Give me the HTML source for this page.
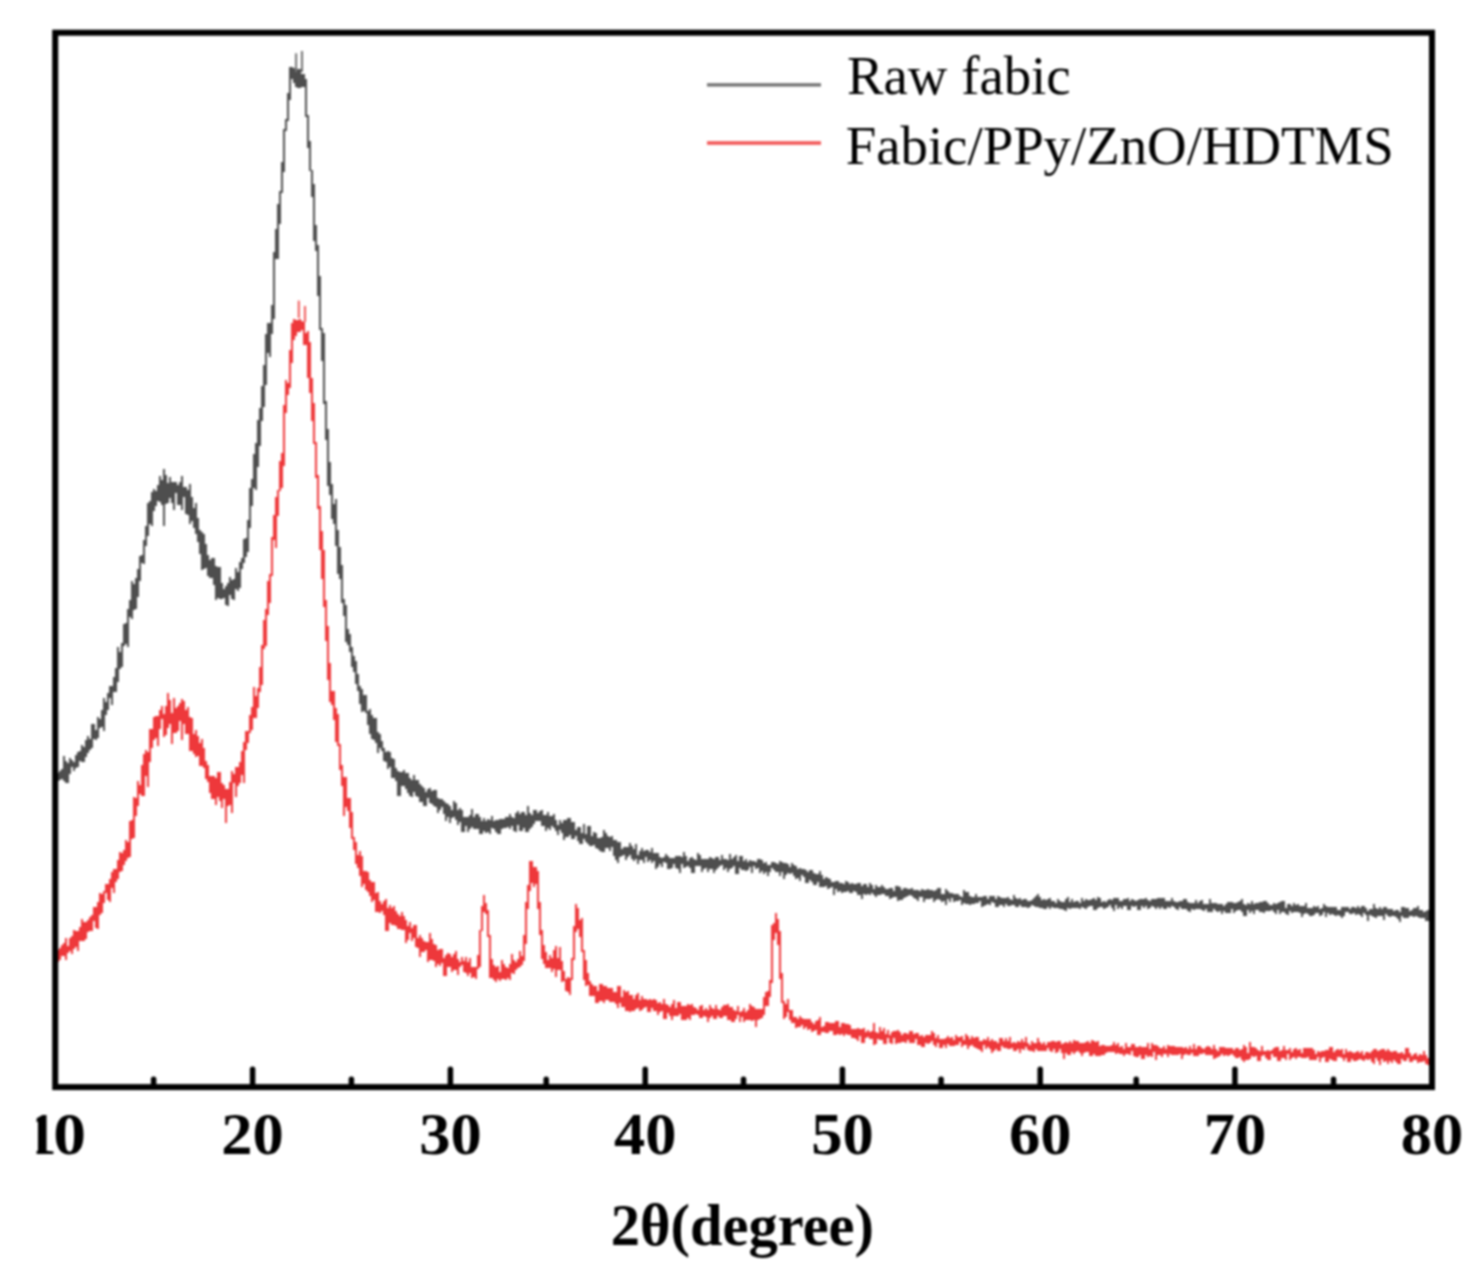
<!DOCTYPE html>
<html><head><meta charset="utf-8"><style>
html,body{margin:0;padding:0;background:#fff;}
svg{display:block;filter:blur(1px);}
text{font-family:"Liberation Serif",serif;}
</style></head><body>
<svg width="1480" height="1279" viewBox="0 0 1480 1279">
<rect x="0" y="0" width="1480" height="1279" fill="#fff"/>
<path d="M55.0 770.2h2.0v13.9h-2.0zM57.0 773.4h2.0v7.7h-2.0zM59.0 770.6h2.0v9.2h-2.0zM61.0 768.6h2.0v10.3h-2.0zM63.0 756.3h2.0v24.3h-2.0zM65.0 760.5h2.0v22.4h-2.0zM67.0 763.0h2.0v20.0h-2.0zM69.0 758.2h2.0v15.3h-2.0zM71.0 759.6h2.0v7.8h-2.0zM73.0 761.5h2.0v9.2h-2.0zM75.0 754.7h2.0v13.6h-2.0zM77.0 752.2h2.0v15.2h-2.0zM79.0 750.5h2.0v10.9h-2.0zM81.0 744.9h2.0v17.4h-2.0zM83.0 747.2h2.0v15.1h-2.0zM85.0 739.9h2.0v17.2h-2.0zM87.0 735.7h2.0v17.5h-2.0zM89.0 739.0h2.0v10.5h-2.0zM91.0 723.5h2.0v24.1h-2.0zM93.0 723.5h2.0v15.2h-2.0zM95.0 730.0h2.0v10.2h-2.0zM97.0 716.9h2.0v21.4h-2.0zM99.0 718.8h2.0v9.3h-2.0zM101.0 710.2h2.0v17.0h-2.0zM103.0 697.8h2.0v33.1h-2.0zM105.0 702.1h2.0v12.8h-2.0zM107.0 693.3h2.0v16.2h-2.0zM109.0 685.9h2.0v11.7h-2.0zM111.0 685.8h2.0v18.7h-2.0zM113.0 676.8h2.0v15.0h-2.0zM115.0 667.9h2.0v24.0h-2.0zM117.0 647.4h2.0v34.4h-2.0zM119.0 652.1h2.0v16.6h-2.0zM121.0 642.7h2.0v24.7h-2.0zM123.0 624.4h2.0v21.1h-2.0zM125.0 622.8h2.0v21.3h-2.0zM127.0 608.7h2.0v37.9h-2.0zM129.0 599.9h2.0v17.2h-2.0zM131.0 581.1h2.0v38.3h-2.0zM133.0 583.9h2.0v25.8h-2.0zM135.0 578.2h2.0v30.6h-2.0zM137.0 568.9h2.0v28.4h-2.0zM139.0 555.8h2.0v24.8h-2.0zM141.0 555.4h2.0v7.9h-2.0zM143.0 539.7h2.0v24.5h-2.0zM145.0 525.8h2.0v20.3h-2.0zM147.0 502.7h2.0v33.6h-2.0zM149.0 501.3h2.0v22.9h-2.0zM151.0 491.7h2.0v34.4h-2.0zM153.0 488.7h2.0v22.4h-2.0zM155.0 490.8h2.0v15.4h-2.0zM157.0 485.4h2.0v15.3h-2.0zM159.0 476.3h2.0v25.9h-2.0zM161.0 480.1h2.0v24.5h-2.0zM163.0 468.6h2.0v57.8h-2.0zM165.0 474.7h2.0v28.9h-2.0zM167.0 482.5h2.0v20.4h-2.0zM169.0 477.0h2.0v20.9h-2.0zM171.0 481.9h2.0v20.8h-2.0zM173.0 482.1h2.0v27.7h-2.0zM175.0 482.1h2.0v10.4h-2.0zM177.0 485.3h2.0v20.1h-2.0zM179.0 481.6h2.0v23.4h-2.0zM181.0 476.2h2.0v33.4h-2.0zM183.0 486.5h2.0v10.2h-2.0zM185.0 487.1h2.0v27.3h-2.0zM187.0 490.1h2.0v24.4h-2.0zM189.0 484.4h2.0v39.5h-2.0zM191.0 497.4h2.0v23.8h-2.0zM193.0 507.6h2.0v20.3h-2.0zM195.0 503.0h2.0v31.0h-2.0zM197.0 518.3h2.0v23.3h-2.0zM199.0 529.5h2.0v24.5h-2.0zM201.0 532.4h2.0v37.1h-2.0zM203.0 533.8h2.0v35.6h-2.0zM205.0 543.9h2.0v24.0h-2.0zM207.0 554.7h2.0v21.2h-2.0zM209.0 560.4h2.0v17.2h-2.0zM211.0 557.8h2.0v20.0h-2.0zM213.0 557.8h2.0v27.6h-2.0zM215.0 565.9h2.0v34.4h-2.0zM217.0 566.9h2.0v31.2h-2.0zM219.0 566.9h2.0v32.4h-2.0zM221.0 582.7h2.0v16.5h-2.0zM223.0 588.6h2.0v9.6h-2.0zM225.0 585.7h2.0v18.9h-2.0zM227.0 582.5h2.0v23.7h-2.0zM229.0 577.2h2.0v17.8h-2.0zM231.0 580.4h2.0v18.7h-2.0zM233.0 578.8h2.0v21.6h-2.0zM235.0 568.4h2.0v20.5h-2.0zM237.0 572.1h2.0v18.7h-2.0zM239.0 562.1h2.0v25.5h-2.0zM241.0 558.1h2.0v10.6h-2.0zM243.0 538.6h2.0v24.3h-2.0zM245.0 537.5h2.0v19.8h-2.0zM247.0 520.0h2.0v32.0h-2.0zM249.0 488.2h2.0v39.6h-2.0zM251.0 478.9h2.0v27.1h-2.0zM253.0 453.5h2.0v34.0h-2.0zM255.0 443.0h2.0v46.5h-2.0zM257.0 419.7h2.0v46.8h-2.0zM259.0 407.7h2.0v38.7h-2.0zM261.0 385.8h2.0v35.3h-2.0zM263.0 365.0h2.0v41.9h-2.0zM265.0 334.2h2.0v50.4h-2.0zM267.0 322.5h2.0v30.7h-2.0zM269.0 322.5h2.0v34.4h-2.0zM271.0 304.6h2.0v29.4h-2.0zM273.0 252.3h2.0v66.8h-2.0zM275.0 228.6h2.0v30.2h-2.0zM277.0 204.4h2.0v54.4h-2.0zM279.0 190.6h2.0v33.6h-2.0zM281.0 161.7h2.0v30.9h-2.0zM283.0 128.8h2.0v43.3h-2.0zM285.0 118.6h2.0v12.1h-2.0zM287.0 93.0h2.0v27.7h-2.0zM289.0 66.5h2.0v33.3h-2.0zM291.0 66.5h2.0v12.9h-2.0zM293.0 67.5h2.0v15.9h-2.0zM295.0 70.9h2.0v15.7h-2.0zM297.0 69.1h2.0v19.0h-2.0zM299.0 68.5h2.0v19.6h-2.0zM301.0 74.1h2.0v12.5h-2.0zM303.0 74.3h2.0v12.3h-2.0zM305.0 79.2h2.0v37.8h-2.0zM307.0 115.0h2.0v33.2h-2.0zM309.0 141.4h2.0v30.0h-2.0zM311.0 169.5h2.0v27.4h-2.0zM313.0 184.1h2.0v56.9h-2.0zM315.0 224.7h2.0v25.9h-2.0zM317.0 245.4h2.0v50.5h-2.0zM319.0 275.8h2.0v54.0h-2.0zM321.0 327.7h2.0v32.9h-2.0zM323.0 333.2h2.0v71.1h-2.0zM325.0 401.1h2.0v39.0h-2.0zM327.0 428.8h2.0v56.8h-2.0zM329.0 462.1h2.0v33.0h-2.0zM331.0 484.4h2.0v34.9h-2.0zM333.0 504.4h2.0v19.1h-2.0zM335.0 499.2h2.0v47.2h-2.0zM337.0 529.6h2.0v44.6h-2.0zM339.0 546.7h2.0v32.0h-2.0zM341.0 565.0h2.0v38.0h-2.0zM343.0 598.5h2.0v17.8h-2.0zM345.0 605.1h2.0v36.4h-2.0zM347.0 628.8h2.0v16.4h-2.0zM349.0 634.3h2.0v17.8h-2.0zM351.0 646.8h2.0v19.8h-2.0zM353.0 656.0h2.0v16.2h-2.0zM355.0 660.9h2.0v23.3h-2.0zM357.0 673.5h2.0v17.6h-2.0zM359.0 685.9h2.0v17.8h-2.0zM361.0 688.7h2.0v23.2h-2.0zM363.0 695.1h2.0v16.0h-2.0zM365.0 694.8h2.0v18.0h-2.0zM367.0 710.7h2.0v14.5h-2.0zM369.0 708.9h2.0v24.7h-2.0zM371.0 714.8h2.0v24.6h-2.0zM373.0 718.0h2.0v22.0h-2.0zM375.0 717.9h2.0v25.3h-2.0zM377.0 732.2h2.0v20.6h-2.0zM379.0 733.6h2.0v14.0h-2.0zM381.0 740.8h2.0v10.2h-2.0zM383.0 747.8h2.0v13.3h-2.0zM385.0 752.4h2.0v9.7h-2.0zM387.0 751.0h2.0v18.0h-2.0zM389.0 752.2h2.0v14.4h-2.0zM391.0 758.0h2.0v19.7h-2.0zM393.0 758.7h2.0v19.0h-2.0zM395.0 768.2h2.0v12.3h-2.0zM397.0 771.3h2.0v24.6h-2.0zM399.0 772.1h2.0v23.8h-2.0zM401.0 771.7h2.0v14.6h-2.0zM403.0 770.0h2.0v15.9h-2.0zM405.0 772.6h2.0v16.1h-2.0zM407.0 772.6h2.0v19.9h-2.0zM409.0 778.2h2.0v18.0h-2.0zM411.0 780.2h2.0v17.2h-2.0zM413.0 774.5h2.0v17.3h-2.0zM415.0 779.7h2.0v16.4h-2.0zM417.0 779.7h2.0v17.3h-2.0zM419.0 783.9h2.0v18.4h-2.0zM421.0 786.2h2.0v15.7h-2.0zM423.0 788.1h2.0v17.9h-2.0zM425.0 792.0h2.0v14.0h-2.0zM427.0 789.1h2.0v9.1h-2.0zM429.0 788.2h2.0v15.0h-2.0zM431.0 790.6h2.0v13.4h-2.0zM433.0 789.6h2.0v15.9h-2.0zM435.0 789.6h2.0v17.6h-2.0zM437.0 797.6h2.0v15.5h-2.0zM439.0 799.0h2.0v11.4h-2.0zM441.0 799.0h2.0v8.1h-2.0zM443.0 800.8h2.0v13.3h-2.0zM445.0 802.8h2.0v18.2h-2.0zM447.0 804.3h2.0v12.6h-2.0zM449.0 806.0h2.0v17.2h-2.0zM451.0 810.0h2.0v7.6h-2.0zM453.0 801.4h2.0v15.2h-2.0zM455.0 802.7h2.0v17.2h-2.0zM457.0 809.6h2.0v15.2h-2.0zM459.0 808.0h2.0v13.5h-2.0zM461.0 809.6h2.0v22.1h-2.0zM463.0 816.7h2.0v15.1h-2.0zM465.0 816.7h2.0v9.7h-2.0zM467.0 817.0h2.0v14.5h-2.0zM469.0 815.2h2.0v14.2h-2.0zM471.0 809.1h2.0v17.4h-2.0zM473.0 817.1h2.0v11.7h-2.0zM475.0 814.1h2.0v14.8h-2.0zM477.0 814.1h2.0v15.3h-2.0zM479.0 816.7h2.0v17.3h-2.0zM481.0 821.2h2.0v12.8h-2.0zM483.0 817.9h2.0v13.2h-2.0zM485.0 820.7h2.0v12.5h-2.0zM487.0 819.4h2.0v12.9h-2.0zM489.0 820.1h2.0v14.0h-2.0zM491.0 816.4h2.0v11.5h-2.0zM493.0 821.2h2.0v7.8h-2.0zM495.0 819.5h2.0v12.7h-2.0zM497.0 819.5h2.0v14.8h-2.0zM499.0 819.3h2.0v14.9h-2.0zM501.0 819.3h2.0v9.5h-2.0zM503.0 819.0h2.0v9.0h-2.0zM505.0 817.0h2.0v11.0h-2.0zM507.0 817.0h2.0v10.1h-2.0zM509.0 813.7h2.0v15.4h-2.0zM511.0 816.6h2.0v9.2h-2.0zM513.0 817.5h2.0v13.0h-2.0zM515.0 812.5h2.0v19.6h-2.0zM517.0 811.3h2.0v13.5h-2.0zM519.0 813.9h2.0v17.1h-2.0zM521.0 812.0h2.0v18.9h-2.0zM523.0 812.0h2.0v16.1h-2.0zM525.0 815.2h2.0v16.7h-2.0zM527.0 805.6h2.0v26.4h-2.0zM529.0 813.3h2.0v15.9h-2.0zM531.0 815.3h2.0v11.2h-2.0zM533.0 810.0h2.0v14.0h-2.0zM535.0 810.4h2.0v10.6h-2.0zM537.0 813.1h2.0v7.8h-2.0zM539.0 810.5h2.0v10.3h-2.0zM541.0 810.4h2.0v15.8h-2.0zM543.0 814.8h2.0v10.7h-2.0zM545.0 814.8h2.0v16.2h-2.0zM547.0 812.0h2.0v16.0h-2.0zM549.0 815.5h2.0v14.2h-2.0zM551.0 815.7h2.0v10.3h-2.0zM553.0 814.2h2.0v13.4h-2.0zM555.0 820.0h2.0v10.9h-2.0zM557.0 825.0h2.0v10.0h-2.0zM559.0 820.1h2.0v9.7h-2.0zM561.0 823.2h2.0v9.6h-2.0zM563.0 820.0h2.0v19.6h-2.0zM565.0 820.0h2.0v17.3h-2.0zM567.0 818.3h2.0v18.9h-2.0zM569.0 818.3h2.0v16.2h-2.0zM571.0 821.8h2.0v17.2h-2.0zM573.0 821.8h2.0v17.0h-2.0zM575.0 829.7h2.0v6.2h-2.0zM577.0 827.1h2.0v13.9h-2.0zM579.0 827.3h2.0v16.8h-2.0zM581.0 832.5h2.0v11.5h-2.0zM583.0 823.9h2.0v15.0h-2.0zM585.0 833.7h2.0v8.0h-2.0zM587.0 826.4h2.0v17.5h-2.0zM589.0 826.4h2.0v20.0h-2.0zM591.0 835.6h2.0v10.8h-2.0zM593.0 832.1h2.0v12.4h-2.0zM595.0 832.6h2.0v15.8h-2.0zM597.0 837.7h2.0v10.8h-2.0zM599.0 837.9h2.0v13.4h-2.0zM601.0 836.9h2.0v15.0h-2.0zM603.0 829.8h2.0v22.1h-2.0zM605.0 833.3h2.0v14.5h-2.0zM607.0 836.1h2.0v11.7h-2.0zM609.0 836.6h2.0v14.0h-2.0zM611.0 836.2h2.0v10.5h-2.0zM613.0 839.5h2.0v16.1h-2.0zM615.0 840.4h2.0v19.4h-2.0zM617.0 842.1h2.0v21.3h-2.0zM619.0 842.1h2.0v14.4h-2.0zM621.0 848.9h2.0v6.8h-2.0zM623.0 846.7h2.0v8.5h-2.0zM625.0 847.1h2.0v12.6h-2.0zM627.0 847.1h2.0v9.6h-2.0zM629.0 843.2h2.0v11.4h-2.0zM631.0 846.3h2.0v12.6h-2.0zM633.0 849.3h2.0v12.1h-2.0zM635.0 844.1h2.0v14.8h-2.0zM637.0 854.8h2.0v9.6h-2.0zM639.0 851.0h2.0v9.4h-2.0zM641.0 847.6h2.0v12.4h-2.0zM643.0 851.0h2.0v12.0h-2.0zM645.0 849.6h2.0v7.8h-2.0zM647.0 849.6h2.0v12.3h-2.0zM649.0 851.7h2.0v8.7h-2.0zM651.0 848.4h2.0v14.6h-2.0zM653.0 852.9h2.0v7.6h-2.0zM655.0 852.9h2.0v16.5h-2.0zM657.0 852.9h2.0v14.2h-2.0zM659.0 856.6h2.0v7.6h-2.0zM661.0 858.1h2.0v8.8h-2.0zM663.0 857.1h2.0v4.9h-2.0zM665.0 854.4h2.0v9.0h-2.0zM667.0 856.1h2.0v12.4h-2.0zM669.0 858.3h2.0v10.7h-2.0zM671.0 858.2h2.0v9.9h-2.0zM673.0 857.6h2.0v6.5h-2.0zM675.0 856.4h2.0v11.8h-2.0zM677.0 856.4h2.0v12.1h-2.0zM679.0 856.3h2.0v16.9h-2.0zM681.0 856.9h2.0v7.2h-2.0zM683.0 852.0h2.0v16.2h-2.0zM685.0 856.2h2.0v10.9h-2.0zM687.0 860.6h2.0v5.6h-2.0zM689.0 857.7h2.0v10.2h-2.0zM691.0 856.8h2.0v16.0h-2.0zM693.0 859.2h2.0v13.6h-2.0zM695.0 859.8h2.0v6.4h-2.0zM697.0 853.4h2.0v12.5h-2.0zM699.0 854.6h2.0v11.6h-2.0zM701.0 859.1h2.0v13.1h-2.0zM703.0 858.8h2.0v10.5h-2.0zM705.0 858.6h2.0v9.8h-2.0zM707.0 858.6h2.0v13.6h-2.0zM709.0 856.8h2.0v12.0h-2.0zM711.0 858.0h2.0v11.1h-2.0zM713.0 858.9h2.0v14.5h-2.0zM715.0 856.7h2.0v13.7h-2.0zM717.0 856.7h2.0v11.6h-2.0zM719.0 859.6h2.0v6.3h-2.0zM721.0 855.2h2.0v10.2h-2.0zM723.0 859.1h2.0v11.0h-2.0zM725.0 858.5h2.0v9.7h-2.0zM727.0 860.1h2.0v11.4h-2.0zM729.0 853.8h2.0v15.0h-2.0zM731.0 858.8h2.0v8.7h-2.0zM733.0 856.7h2.0v9.5h-2.0zM735.0 855.3h2.0v18.3h-2.0zM737.0 861.0h2.0v12.6h-2.0zM739.0 856.3h2.0v11.4h-2.0zM741.0 856.3h2.0v13.7h-2.0zM743.0 860.8h2.0v9.2h-2.0zM745.0 858.7h2.0v12.3h-2.0zM747.0 861.5h2.0v8.8h-2.0zM749.0 859.7h2.0v7.6h-2.0zM751.0 861.0h2.0v11.6h-2.0zM753.0 861.1h2.0v5.1h-2.0zM755.0 862.0h2.0v7.1h-2.0zM757.0 858.7h2.0v9.5h-2.0zM759.0 858.7h2.0v14.1h-2.0zM761.0 860.1h2.0v10.8h-2.0zM763.0 863.4h2.0v10.9h-2.0zM765.0 862.1h2.0v10.2h-2.0zM767.0 864.7h2.0v11.4h-2.0zM769.0 864.5h2.0v7.5h-2.0zM771.0 861.6h2.0v6.7h-2.0zM773.0 862.0h2.0v7.6h-2.0zM775.0 863.1h2.0v9.3h-2.0zM777.0 863.8h2.0v8.3h-2.0zM779.0 860.8h2.0v15.1h-2.0zM781.0 861.9h2.0v10.3h-2.0zM783.0 862.9h2.0v15.8h-2.0zM785.0 862.9h2.0v12.3h-2.0zM787.0 864.3h2.0v8.7h-2.0zM789.0 866.9h2.0v6.6h-2.0zM791.0 863.4h2.0v9.1h-2.0zM793.0 865.4h2.0v10.2h-2.0zM795.0 866.2h2.0v13.0h-2.0zM797.0 868.6h2.0v9.0h-2.0zM799.0 868.3h2.0v13.0h-2.0zM801.0 869.3h2.0v6.1h-2.0zM803.0 868.7h2.0v8.7h-2.0zM805.0 869.5h2.0v13.1h-2.0zM807.0 871.8h2.0v10.7h-2.0zM809.0 870.4h2.0v9.2h-2.0zM811.0 870.4h2.0v11.8h-2.0zM813.0 873.0h2.0v11.6h-2.0zM815.0 873.6h2.0v11.3h-2.0zM817.0 874.2h2.0v7.3h-2.0zM819.0 870.6h2.0v15.9h-2.0zM821.0 875.3h2.0v11.3h-2.0zM823.0 879.2h2.0v7.8h-2.0zM825.0 877.1h2.0v8.4h-2.0zM827.0 877.9h2.0v10.7h-2.0zM829.0 878.5h2.0v9.9h-2.0zM831.0 881.5h2.0v5.4h-2.0zM833.0 881.6h2.0v13.0h-2.0zM835.0 881.1h2.0v7.5h-2.0zM837.0 881.3h2.0v11.1h-2.0zM839.0 882.8h2.0v8.5h-2.0zM841.0 882.6h2.0v10.6h-2.0zM843.0 883.6h2.0v7.9h-2.0zM845.0 881.4h2.0v10.1h-2.0zM847.0 882.3h2.0v8.7h-2.0zM849.0 884.4h2.0v8.9h-2.0zM851.0 883.3h2.0v10.1h-2.0zM853.0 884.0h2.0v6.8h-2.0zM855.0 884.4h2.0v7.2h-2.0zM857.0 882.6h2.0v12.2h-2.0zM859.0 882.9h2.0v12.1h-2.0zM861.0 886.2h2.0v12.6h-2.0zM863.0 884.0h2.0v10.2h-2.0zM865.0 884.0h2.0v10.5h-2.0zM867.0 886.7h2.0v7.2h-2.0zM869.0 883.4h2.0v11.4h-2.0zM871.0 885.0h2.0v7.8h-2.0zM873.0 889.4h2.0v6.0h-2.0zM875.0 885.2h2.0v11.8h-2.0zM877.0 887.3h2.0v7.5h-2.0zM879.0 886.8h2.0v8.0h-2.0zM881.0 884.7h2.0v9.6h-2.0zM883.0 886.6h2.0v6.9h-2.0zM885.0 888.8h2.0v7.2h-2.0zM887.0 888.9h2.0v7.1h-2.0zM889.0 888.3h2.0v10.8h-2.0zM891.0 887.8h2.0v10.4h-2.0zM893.0 891.4h2.0v5.9h-2.0zM895.0 886.4h2.0v10.7h-2.0zM897.0 886.4h2.0v15.0h-2.0zM899.0 887.3h2.0v12.7h-2.0zM901.0 889.5h2.0v10.3h-2.0zM903.0 888.2h2.0v9.6h-2.0zM905.0 887.8h2.0v8.9h-2.0zM907.0 888.8h2.0v6.9h-2.0zM909.0 889.1h2.0v5.5h-2.0zM911.0 888.2h2.0v8.0h-2.0zM913.0 890.0h2.0v8.1h-2.0zM915.0 890.4h2.0v8.6h-2.0zM917.0 890.4h2.0v10.8h-2.0zM919.0 891.1h2.0v5.7h-2.0zM921.0 888.6h2.0v8.0h-2.0zM923.0 890.0h2.0v11.9h-2.0zM925.0 890.0h2.0v9.1h-2.0zM927.0 889.0h2.0v10.2h-2.0zM929.0 890.2h2.0v8.8h-2.0zM931.0 890.2h2.0v7.8h-2.0zM933.0 890.8h2.0v10.8h-2.0zM935.0 889.7h2.0v10.7h-2.0zM937.0 887.7h2.0v11.3h-2.0zM939.0 887.7h2.0v12.2h-2.0zM941.0 893.9h2.0v8.2h-2.0zM943.0 893.8h2.0v7.0h-2.0zM945.0 889.2h2.0v16.1h-2.0zM947.0 891.0h2.0v8.0h-2.0zM949.0 893.4h2.0v9.0h-2.0zM951.0 893.4h2.0v5.0h-2.0zM953.0 894.2h2.0v7.3h-2.0zM955.0 894.2h2.0v6.4h-2.0zM957.0 894.0h2.0v6.6h-2.0zM959.0 895.5h2.0v4.2h-2.0zM961.0 896.6h2.0v7.9h-2.0zM963.0 890.3h2.0v12.6h-2.0zM965.0 891.9h2.0v11.7h-2.0zM967.0 891.9h2.0v12.3h-2.0zM969.0 896.1h2.0v8.8h-2.0zM971.0 896.5h2.0v7.7h-2.0zM973.0 897.4h2.0v6.8h-2.0zM975.0 894.3h2.0v8.7h-2.0zM977.0 896.7h2.0v5.9h-2.0zM979.0 896.7h2.0v4.6h-2.0zM981.0 897.2h2.0v9.7h-2.0zM983.0 895.5h2.0v10.2h-2.0zM985.0 895.6h2.0v9.3h-2.0zM987.0 899.1h2.0v4.7h-2.0zM989.0 895.8h2.0v9.2h-2.0zM991.0 895.8h2.0v5.9h-2.0zM993.0 895.8h2.0v7.2h-2.0zM995.0 898.6h2.0v8.2h-2.0zM997.0 896.0h2.0v10.5h-2.0zM999.0 896.5h2.0v8.8h-2.0zM1001.0 897.7h2.0v7.4h-2.0zM1003.0 897.7h2.0v9.7h-2.0zM1005.0 898.4h2.0v5.7h-2.0zM1007.0 897.0h2.0v9.4h-2.0zM1009.0 898.7h2.0v7.4h-2.0zM1011.0 899.5h2.0v5.8h-2.0zM1013.0 894.8h2.0v10.3h-2.0zM1015.0 898.2h2.0v8.7h-2.0zM1017.0 898.9h2.0v7.6h-2.0zM1019.0 897.7h2.0v7.4h-2.0zM1021.0 899.8h2.0v7.0h-2.0zM1023.0 899.1h2.0v8.1h-2.0zM1025.0 898.6h2.0v8.3h-2.0zM1027.0 901.0h2.0v7.3h-2.0zM1029.0 900.9h2.0v6.5h-2.0zM1031.0 899.5h2.0v5.1h-2.0zM1033.0 898.3h2.0v8.0h-2.0zM1035.0 896.4h2.0v10.4h-2.0zM1037.0 894.0h2.0v12.5h-2.0zM1039.0 897.2h2.0v10.4h-2.0zM1041.0 900.2h2.0v7.3h-2.0zM1043.0 899.1h2.0v9.5h-2.0zM1045.0 900.4h2.0v8.2h-2.0zM1047.0 899.1h2.0v7.4h-2.0zM1049.0 898.3h2.0v10.5h-2.0zM1051.0 900.6h2.0v6.8h-2.0zM1053.0 900.7h2.0v7.1h-2.0zM1055.0 902.5h2.0v5.3h-2.0zM1057.0 898.7h2.0v9.4h-2.0zM1059.0 901.3h2.0v7.5h-2.0zM1061.0 902.0h2.0v7.4h-2.0zM1063.0 901.7h2.0v7.9h-2.0zM1065.0 899.4h2.0v11.3h-2.0zM1067.0 897.2h2.0v10.8h-2.0zM1069.0 901.6h2.0v7.6h-2.0zM1071.0 898.6h2.0v9.6h-2.0zM1073.0 901.9h2.0v6.2h-2.0zM1075.0 900.7h2.0v7.4h-2.0zM1077.0 900.5h2.0v7.3h-2.0zM1079.0 903.4h2.0v5.5h-2.0zM1081.0 897.8h2.0v8.7h-2.0zM1083.0 901.3h2.0v6.2h-2.0zM1085.0 899.4h2.0v9.8h-2.0zM1087.0 899.5h2.0v7.1h-2.0zM1089.0 899.8h2.0v6.3h-2.0zM1091.0 899.1h2.0v6.9h-2.0zM1093.0 897.8h2.0v12.3h-2.0zM1095.0 899.8h2.0v10.4h-2.0zM1097.0 896.5h2.0v11.1h-2.0zM1099.0 898.3h2.0v8.8h-2.0zM1101.0 902.1h2.0v4.6h-2.0zM1103.0 901.0h2.0v7.5h-2.0zM1105.0 902.0h2.0v6.1h-2.0zM1107.0 899.8h2.0v7.6h-2.0zM1109.0 899.1h2.0v6.2h-2.0zM1111.0 899.6h2.0v8.6h-2.0zM1113.0 897.6h2.0v13.0h-2.0zM1115.0 897.6h2.0v7.8h-2.0zM1117.0 898.3h2.0v10.6h-2.0zM1119.0 900.7h2.0v6.4h-2.0zM1121.0 900.6h2.0v8.3h-2.0zM1123.0 898.8h2.0v7.0h-2.0zM1125.0 898.8h2.0v6.8h-2.0zM1127.0 897.7h2.0v11.8h-2.0zM1129.0 900.8h2.0v8.8h-2.0zM1131.0 899.0h2.0v7.1h-2.0zM1133.0 900.4h2.0v6.5h-2.0zM1135.0 901.2h2.0v4.8h-2.0zM1137.0 899.8h2.0v9.7h-2.0zM1139.0 899.0h2.0v10.8h-2.0zM1141.0 899.1h2.0v6.7h-2.0zM1143.0 899.4h2.0v8.3h-2.0zM1145.0 897.7h2.0v8.5h-2.0zM1147.0 899.8h2.0v9.0h-2.0zM1149.0 901.2h2.0v6.4h-2.0zM1151.0 898.9h2.0v7.3h-2.0zM1153.0 899.2h2.0v7.9h-2.0zM1155.0 899.2h2.0v9.5h-2.0zM1157.0 898.4h2.0v9.0h-2.0zM1159.0 898.4h2.0v10.4h-2.0zM1161.0 898.4h2.0v8.4h-2.0zM1163.0 898.4h2.0v10.7h-2.0zM1165.0 900.8h2.0v8.1h-2.0zM1167.0 900.9h2.0v6.4h-2.0zM1169.0 900.7h2.0v7.6h-2.0zM1171.0 897.9h2.0v8.4h-2.0zM1173.0 901.3h2.0v5.5h-2.0zM1175.0 902.2h2.0v6.4h-2.0zM1177.0 901.7h2.0v8.2h-2.0zM1179.0 900.9h2.0v5.9h-2.0zM1181.0 901.2h2.0v7.7h-2.0zM1183.0 899.2h2.0v9.5h-2.0zM1185.0 899.2h2.0v9.3h-2.0zM1187.0 901.6h2.0v9.3h-2.0zM1189.0 902.5h2.0v9.3h-2.0zM1191.0 902.5h2.0v6.2h-2.0zM1193.0 903.1h2.0v7.1h-2.0zM1195.0 900.3h2.0v9.1h-2.0zM1197.0 902.5h2.0v6.2h-2.0zM1199.0 901.0h2.0v7.9h-2.0zM1201.0 899.9h2.0v9.8h-2.0zM1203.0 903.8h2.0v7.5h-2.0zM1205.0 904.1h2.0v5.3h-2.0zM1207.0 903.5h2.0v8.5h-2.0zM1209.0 898.5h2.0v13.1h-2.0zM1211.0 903.0h2.0v8.6h-2.0zM1213.0 903.0h2.0v6.3h-2.0zM1215.0 903.4h2.0v8.0h-2.0zM1217.0 904.4h2.0v7.3h-2.0zM1219.0 904.3h2.0v6.8h-2.0zM1221.0 903.5h2.0v10.0h-2.0zM1223.0 905.8h2.0v4.7h-2.0zM1225.0 904.1h2.0v8.4h-2.0zM1227.0 901.5h2.0v11.0h-2.0zM1229.0 901.8h2.0v11.6h-2.0zM1231.0 902.0h2.0v6.9h-2.0zM1233.0 902.7h2.0v10.4h-2.0zM1235.0 902.7h2.0v8.6h-2.0zM1237.0 902.1h2.0v7.9h-2.0zM1239.0 900.9h2.0v9.1h-2.0zM1241.0 899.1h2.0v12.8h-2.0zM1243.0 904.2h2.0v11.4h-2.0zM1245.0 904.8h2.0v10.8h-2.0zM1247.0 902.9h2.0v7.5h-2.0zM1249.0 904.2h2.0v9.0h-2.0zM1251.0 901.4h2.0v9.4h-2.0zM1253.0 903.8h2.0v10.3h-2.0zM1255.0 903.1h2.0v7.2h-2.0zM1257.0 903.1h2.0v6.5h-2.0zM1259.0 901.9h2.0v10.0h-2.0zM1261.0 901.9h2.0v10.0h-2.0zM1263.0 901.0h2.0v11.9h-2.0zM1265.0 901.0h2.0v10.4h-2.0zM1267.0 902.5h2.0v8.7h-2.0zM1269.0 905.2h2.0v5.3h-2.0zM1271.0 904.7h2.0v5.4h-2.0zM1273.0 902.5h2.0v9.5h-2.0zM1275.0 904.0h2.0v10.2h-2.0zM1277.0 903.1h2.0v6.9h-2.0zM1279.0 902.4h2.0v11.2h-2.0zM1281.0 901.1h2.0v10.8h-2.0zM1283.0 901.3h2.0v10.8h-2.0zM1285.0 907.9h2.0v6.3h-2.0zM1287.0 903.7h2.0v10.8h-2.0zM1289.0 904.2h2.0v6.7h-2.0zM1291.0 905.6h2.0v7.4h-2.0zM1293.0 902.8h2.0v9.4h-2.0zM1295.0 905.3h2.0v6.4h-2.0zM1297.0 904.2h2.0v7.4h-2.0zM1299.0 906.1h2.0v6.6h-2.0zM1301.0 906.1h2.0v10.7h-2.0zM1303.0 906.1h2.0v7.4h-2.0zM1305.0 903.4h2.0v9.7h-2.0zM1307.0 907.5h2.0v6.7h-2.0zM1309.0 907.6h2.0v8.2h-2.0zM1311.0 907.6h2.0v7.9h-2.0zM1313.0 906.3h2.0v8.3h-2.0zM1315.0 907.3h2.0v5.8h-2.0zM1317.0 906.2h2.0v7.0h-2.0zM1319.0 908.7h2.0v6.9h-2.0zM1321.0 907.8h2.0v7.3h-2.0zM1323.0 903.6h2.0v8.4h-2.0zM1325.0 906.2h2.0v10.5h-2.0zM1327.0 906.8h2.0v6.0h-2.0zM1329.0 906.8h2.0v7.8h-2.0zM1331.0 906.7h2.0v7.4h-2.0zM1333.0 906.7h2.0v8.5h-2.0zM1335.0 907.4h2.0v8.5h-2.0zM1337.0 909.8h2.0v4.7h-2.0zM1339.0 909.7h2.0v6.6h-2.0zM1341.0 907.1h2.0v11.1h-2.0zM1343.0 907.3h2.0v8.3h-2.0zM1345.0 906.7h2.0v5.7h-2.0zM1347.0 906.7h2.0v5.4h-2.0zM1349.0 909.1h2.0v5.3h-2.0zM1351.0 907.4h2.0v7.0h-2.0zM1353.0 906.5h2.0v6.7h-2.0zM1355.0 908.4h2.0v6.1h-2.0zM1357.0 905.8h2.0v8.5h-2.0zM1359.0 908.1h2.0v7.1h-2.0zM1361.0 905.5h2.0v11.4h-2.0zM1363.0 905.5h2.0v7.3h-2.0zM1365.0 907.5h2.0v7.5h-2.0zM1367.0 910.6h2.0v10.7h-2.0zM1369.0 908.6h2.0v6.1h-2.0zM1371.0 908.9h2.0v7.4h-2.0zM1373.0 903.5h2.0v13.0h-2.0zM1375.0 907.8h2.0v10.5h-2.0zM1377.0 909.4h2.0v6.6h-2.0zM1379.0 906.8h2.0v9.2h-2.0zM1381.0 909.1h2.0v6.6h-2.0zM1383.0 907.1h2.0v12.6h-2.0zM1385.0 907.1h2.0v6.9h-2.0zM1387.0 908.8h2.0v7.0h-2.0zM1389.0 908.9h2.0v7.9h-2.0zM1391.0 909.0h2.0v6.9h-2.0zM1393.0 911.3h2.0v4.5h-2.0zM1395.0 909.7h2.0v7.3h-2.0zM1397.0 909.7h2.0v9.0h-2.0zM1399.0 912.3h2.0v9.2h-2.0zM1401.0 906.7h2.0v8.9h-2.0zM1403.0 907.4h2.0v10.4h-2.0zM1405.0 908.4h2.0v9.3h-2.0zM1407.0 907.9h2.0v10.0h-2.0zM1409.0 910.5h2.0v5.5h-2.0zM1411.0 910.2h2.0v5.6h-2.0zM1413.0 908.3h2.0v9.1h-2.0zM1415.0 908.3h2.0v8.1h-2.0zM1417.0 906.4h2.0v10.1h-2.0zM1419.0 910.4h2.0v7.7h-2.0zM1421.0 910.0h2.0v7.5h-2.0zM1423.0 911.5h2.0v6.0h-2.0zM1425.0 911.4h2.0v10.0h-2.0zM1427.0 909.6h2.0v11.8h-2.0zM1429.0 908.1h2.0v13.3h-2.0z" fill="#4e4e4e" shape-rendering="crispEdges"/>
<path d="M55.0 942.9h2.0v22.9h-2.0zM57.0 950.3h2.0v11.8h-2.0zM59.0 947.8h2.0v11.9h-2.0zM61.0 945.4h2.0v10.5h-2.0zM63.0 943.1h2.0v12.8h-2.0zM65.0 938.1h2.0v22.1h-2.0zM67.0 946.2h2.0v7.1h-2.0zM69.0 937.9h2.0v12.8h-2.0zM71.0 936.1h2.0v17.9h-2.0zM73.0 929.9h2.0v19.4h-2.0zM75.0 931.0h2.0v15.5h-2.0zM77.0 931.2h2.0v20.1h-2.0zM79.0 927.2h2.0v13.3h-2.0zM81.0 918.9h2.0v22.3h-2.0zM83.0 921.6h2.0v19.6h-2.0zM85.0 921.6h2.0v17.8h-2.0zM87.0 919.9h2.0v12.2h-2.0zM89.0 917.0h2.0v14.4h-2.0zM91.0 915.1h2.0v16.3h-2.0zM93.0 907.4h2.0v13.8h-2.0zM95.0 907.4h2.0v21.0h-2.0zM97.0 902.2h2.0v26.3h-2.0zM99.0 893.0h2.0v22.3h-2.0zM101.0 894.3h2.0v19.1h-2.0zM103.0 890.9h2.0v12.2h-2.0zM105.0 884.3h2.0v8.6h-2.0zM107.0 884.1h2.0v16.1h-2.0zM109.0 879.3h2.0v23.1h-2.0zM111.0 872.0h2.0v15.8h-2.0zM113.0 868.5h2.0v24.9h-2.0zM115.0 868.5h2.0v13.1h-2.0zM117.0 859.8h2.0v18.8h-2.0zM119.0 851.7h2.0v20.5h-2.0zM121.0 852.5h2.0v18.3h-2.0zM123.0 850.4h2.0v14.6h-2.0zM125.0 840.1h2.0v21.2h-2.0zM127.0 841.7h2.0v16.4h-2.0zM129.0 821.4h2.0v35.5h-2.0zM131.0 820.3h2.0v19.1h-2.0zM133.0 796.7h2.0v40.8h-2.0zM135.0 797.6h2.0v18.0h-2.0zM137.0 781.0h2.0v24.6h-2.0zM139.0 784.6h2.0v9.5h-2.0zM141.0 765.1h2.0v31.1h-2.0zM143.0 754.0h2.0v42.2h-2.0zM145.0 749.5h2.0v26.0h-2.0zM147.0 751.7h2.0v35.0h-2.0zM149.0 729.3h2.0v32.9h-2.0zM151.0 728.5h2.0v19.8h-2.0zM153.0 717.2h2.0v23.2h-2.0zM155.0 715.7h2.0v22.3h-2.0zM157.0 715.7h2.0v30.5h-2.0zM159.0 709.7h2.0v19.1h-2.0zM161.0 705.9h2.0v12.7h-2.0zM163.0 714.1h2.0v22.5h-2.0zM165.0 706.0h2.0v29.0h-2.0zM167.0 692.9h2.0v35.5h-2.0zM169.0 699.6h2.0v24.8h-2.0zM171.0 713.4h2.0v31.0h-2.0zM173.0 698.3h2.0v35.1h-2.0zM175.0 707.8h2.0v25.5h-2.0zM177.0 705.6h2.0v25.5h-2.0zM179.0 702.8h2.0v18.1h-2.0zM181.0 699.1h2.0v40.9h-2.0zM183.0 701.1h2.0v23.2h-2.0zM185.0 709.6h2.0v24.3h-2.0zM187.0 706.6h2.0v27.7h-2.0zM189.0 717.4h2.0v33.1h-2.0zM191.0 718.1h2.0v32.4h-2.0zM193.0 734.2h2.0v19.9h-2.0zM195.0 729.8h2.0v27.3h-2.0zM197.0 735.8h2.0v19.9h-2.0zM199.0 742.6h2.0v23.0h-2.0zM201.0 739.2h2.0v26.6h-2.0zM203.0 748.4h2.0v19.5h-2.0zM205.0 760.6h2.0v18.2h-2.0zM207.0 764.7h2.0v17.3h-2.0zM209.0 776.1h2.0v17.2h-2.0zM211.0 776.0h2.0v22.5h-2.0zM213.0 775.9h2.0v23.4h-2.0zM215.0 777.6h2.0v27.5h-2.0zM217.0 772.1h2.0v24.9h-2.0zM219.0 772.1h2.0v28.8h-2.0zM221.0 783.2h2.0v24.6h-2.0zM223.0 784.5h2.0v14.6h-2.0zM225.0 789.1h2.0v34.3h-2.0zM227.0 788.8h2.0v17.2h-2.0zM229.0 782.2h2.0v22.8h-2.0zM231.0 770.9h2.0v42.4h-2.0zM233.0 774.0h2.0v9.3h-2.0zM235.0 767.1h2.0v29.4h-2.0zM237.0 767.1h2.0v18.9h-2.0zM239.0 762.2h2.0v21.0h-2.0zM241.0 750.5h2.0v24.2h-2.0zM243.0 741.8h2.0v41.0h-2.0zM245.0 731.4h2.0v18.7h-2.0zM247.0 731.1h2.0v11.9h-2.0zM249.0 715.2h2.0v17.9h-2.0zM251.0 706.9h2.0v23.1h-2.0zM253.0 687.1h2.0v31.3h-2.0zM255.0 695.8h2.0v21.7h-2.0zM257.0 687.9h2.0v19.8h-2.0zM259.0 666.8h2.0v24.8h-2.0zM261.0 644.6h2.0v40.7h-2.0zM263.0 619.9h2.0v29.1h-2.0zM265.0 608.9h2.0v37.0h-2.0zM267.0 581.4h2.0v33.4h-2.0zM269.0 573.5h2.0v29.4h-2.0zM271.0 537.4h2.0v38.1h-2.0zM273.0 514.9h2.0v24.7h-2.0zM275.0 497.1h2.0v50.8h-2.0zM277.0 489.5h2.0v26.7h-2.0zM279.0 460.8h2.0v30.6h-2.0zM281.0 453.3h2.0v34.5h-2.0zM283.0 404.5h2.0v61.7h-2.0zM285.0 380.3h2.0v32.4h-2.0zM287.0 383.0h2.0v11.6h-2.0zM289.0 350.3h2.0v37.9h-2.0zM291.0 322.7h2.0v40.1h-2.0zM293.0 318.8h2.0v21.2h-2.0zM295.0 319.9h2.0v15.8h-2.0zM297.0 319.7h2.0v12.7h-2.0zM299.0 318.6h2.0v13.8h-2.0zM301.0 320.7h2.0v9.7h-2.0zM303.0 321.6h2.0v23.7h-2.0zM305.0 333.0h2.0v12.3h-2.0zM307.0 330.5h2.0v47.5h-2.0zM309.0 342.4h2.0v51.0h-2.0zM311.0 378.3h2.0v42.5h-2.0zM313.0 402.5h2.0v41.1h-2.0zM315.0 441.6h2.0v36.5h-2.0zM317.0 474.5h2.0v34.7h-2.0zM319.0 506.3h2.0v43.2h-2.0zM321.0 530.6h2.0v48.4h-2.0zM323.0 550.4h2.0v56.8h-2.0zM325.0 600.3h2.0v40.8h-2.0zM327.0 625.6h2.0v54.3h-2.0zM329.0 663.4h2.0v38.7h-2.0zM331.0 691.1h2.0v14.3h-2.0zM333.0 691.1h2.0v29.0h-2.0zM335.0 708.1h2.0v34.3h-2.0zM337.0 713.5h2.0v32.7h-2.0zM339.0 744.0h2.0v26.4h-2.0zM341.0 764.5h2.0v21.8h-2.0zM343.0 777.2h2.0v39.1h-2.0zM345.0 777.2h2.0v30.2h-2.0zM347.0 797.5h2.0v13.9h-2.0zM349.0 797.5h2.0v30.8h-2.0zM351.0 811.5h2.0v27.0h-2.0zM353.0 836.5h2.0v13.7h-2.0zM355.0 842.4h2.0v21.9h-2.0zM357.0 854.5h2.0v13.1h-2.0zM359.0 851.0h2.0v24.5h-2.0zM361.0 856.3h2.0v31.0h-2.0zM363.0 870.7h2.0v13.3h-2.0zM365.0 870.7h2.0v19.5h-2.0zM367.0 872.2h2.0v20.0h-2.0zM369.0 880.3h2.0v15.8h-2.0zM371.0 881.5h2.0v20.3h-2.0zM373.0 881.5h2.0v18.1h-2.0zM375.0 892.6h2.0v19.6h-2.0zM377.0 892.3h2.0v19.6h-2.0zM379.0 901.4h2.0v11.3h-2.0zM381.0 903.9h2.0v6.9h-2.0zM383.0 901.4h2.0v13.8h-2.0zM385.0 898.7h2.0v32.0h-2.0zM387.0 907.7h2.0v23.0h-2.0zM389.0 904.9h2.0v18.4h-2.0zM391.0 908.0h2.0v16.6h-2.0zM393.0 906.4h2.0v18.1h-2.0zM395.0 911.1h2.0v14.8h-2.0zM397.0 914.4h2.0v14.5h-2.0zM399.0 916.1h2.0v13.3h-2.0zM401.0 911.8h2.0v18.0h-2.0zM403.0 916.2h2.0v13.5h-2.0zM405.0 919.7h2.0v23.6h-2.0zM407.0 925.7h2.0v14.0h-2.0zM409.0 922.3h2.0v10.3h-2.0zM411.0 928.1h2.0v13.3h-2.0zM413.0 925.0h2.0v13.0h-2.0zM415.0 925.4h2.0v21.1h-2.0zM417.0 938.2h2.0v9.7h-2.0zM419.0 934.6h2.0v22.1h-2.0zM421.0 937.9h2.0v14.5h-2.0zM423.0 940.9h2.0v11.5h-2.0zM425.0 941.7h2.0v8.5h-2.0zM427.0 942.3h2.0v19.7h-2.0zM429.0 933.3h2.0v26.6h-2.0zM431.0 938.8h2.0v21.1h-2.0zM433.0 944.0h2.0v16.5h-2.0zM435.0 945.1h2.0v21.5h-2.0zM437.0 950.4h2.0v13.7h-2.0zM439.0 948.6h2.0v17.6h-2.0zM441.0 949.3h2.0v13.3h-2.0zM443.0 958.3h2.0v17.4h-2.0zM445.0 954.5h2.0v21.2h-2.0zM447.0 953.2h2.0v13.8h-2.0zM449.0 954.3h2.0v12.5h-2.0zM451.0 957.2h2.0v15.2h-2.0zM453.0 954.0h2.0v15.7h-2.0zM455.0 950.7h2.0v19.0h-2.0zM457.0 958.9h2.0v16.5h-2.0zM459.0 961.5h2.0v5.4h-2.0zM461.0 957.3h2.0v7.7h-2.0zM463.0 961.1h2.0v11.0h-2.0zM465.0 956.5h2.0v16.8h-2.0zM467.0 962.2h2.0v14.0h-2.0zM469.0 958.4h2.0v14.9h-2.0zM471.0 966.9h2.0v10.8h-2.0zM473.0 966.9h2.0v9.6h-2.0zM475.0 966.6h2.0v12.8h-2.0zM477.0 955.2h2.0v13.3h-2.0zM479.0 929.5h2.0v37.5h-2.0zM481.0 906.3h2.0v25.1h-2.0zM483.0 894.8h2.0v17.5h-2.0zM485.0 902.9h2.0v10.8h-2.0zM487.0 909.6h2.0v27.8h-2.0zM489.0 935.4h2.0v42.5h-2.0zM491.0 958.5h2.0v19.7h-2.0zM493.0 965.1h2.0v14.4h-2.0zM495.0 967.0h2.0v15.3h-2.0zM497.0 966.3h2.0v12.5h-2.0zM499.0 971.7h2.0v9.5h-2.0zM501.0 960.0h2.0v18.7h-2.0zM503.0 964.1h2.0v14.6h-2.0zM505.0 966.6h2.0v13.4h-2.0zM507.0 968.2h2.0v10.2h-2.0zM509.0 963.9h2.0v16.2h-2.0zM511.0 953.5h2.0v19.6h-2.0zM513.0 960.4h2.0v13.9h-2.0zM515.0 961.5h2.0v8.1h-2.0zM517.0 958.6h2.0v9.1h-2.0zM519.0 950.6h2.0v16.6h-2.0zM521.0 955.7h2.0v8.8h-2.0zM523.0 934.7h2.0v26.7h-2.0zM525.0 902.1h2.0v41.9h-2.0zM527.0 884.5h2.0v24.7h-2.0zM529.0 860.5h2.0v30.4h-2.0zM531.0 860.5h2.0v22.6h-2.0zM533.0 866.8h2.0v20.2h-2.0zM535.0 867.2h2.0v16.7h-2.0zM537.0 871.0h2.0v38.0h-2.0zM539.0 901.8h2.0v32.7h-2.0zM541.0 930.2h2.0v28.6h-2.0zM543.0 944.8h2.0v19.2h-2.0zM545.0 951.6h2.0v15.9h-2.0zM547.0 959.8h2.0v7.7h-2.0zM549.0 955.4h2.0v12.8h-2.0zM551.0 958.1h2.0v13.7h-2.0zM553.0 950.0h2.0v18.6h-2.0zM555.0 946.3h2.0v30.7h-2.0zM557.0 957.9h2.0v11.9h-2.0zM559.0 947.1h2.0v22.8h-2.0zM561.0 960.6h2.0v21.5h-2.0zM563.0 970.9h2.0v9.6h-2.0zM565.0 978.5h2.0v12.0h-2.0zM567.0 976.6h2.0v15.5h-2.0zM569.0 977.7h2.0v16.9h-2.0zM571.0 958.1h2.0v21.6h-2.0zM573.0 926.0h2.0v34.1h-2.0zM575.0 904.0h2.0v28.1h-2.0zM577.0 907.9h2.0v21.3h-2.0zM579.0 920.1h2.0v17.1h-2.0zM581.0 918.1h2.0v34.2h-2.0zM583.0 950.3h2.0v29.6h-2.0zM585.0 960.2h2.0v25.8h-2.0zM587.0 973.3h2.0v11.6h-2.0zM589.0 980.6h2.0v14.9h-2.0zM591.0 983.9h2.0v11.6h-2.0zM593.0 986.0h2.0v10.4h-2.0zM595.0 985.9h2.0v16.7h-2.0zM597.0 991.2h2.0v12.0h-2.0zM599.0 983.5h2.0v17.3h-2.0zM601.0 983.5h2.0v17.8h-2.0zM603.0 986.0h2.0v16.5h-2.0zM605.0 986.0h2.0v13.9h-2.0zM607.0 987.9h2.0v12.0h-2.0zM609.0 987.6h2.0v14.6h-2.0zM611.0 987.6h2.0v14.4h-2.0zM613.0 992.4h2.0v10.0h-2.0zM615.0 991.9h2.0v11.6h-2.0zM617.0 986.1h2.0v22.2h-2.0zM619.0 986.1h2.0v17.1h-2.0zM621.0 997.4h2.0v9.2h-2.0zM623.0 989.7h2.0v17.4h-2.0zM625.0 991.7h2.0v19.1h-2.0zM627.0 991.2h2.0v19.6h-2.0zM629.0 994.9h2.0v16.6h-2.0zM631.0 994.9h2.0v16.1h-2.0zM633.0 999.3h2.0v11.8h-2.0zM635.0 995.2h2.0v13.8h-2.0zM637.0 992.9h2.0v15.4h-2.0zM639.0 1000.1h2.0v11.2h-2.0zM641.0 996.1h2.0v14.3h-2.0zM643.0 998.6h2.0v9.7h-2.0zM645.0 998.6h2.0v8.1h-2.0zM647.0 1000.4h2.0v11.8h-2.0zM649.0 998.7h2.0v13.5h-2.0zM651.0 1000.2h2.0v7.8h-2.0zM653.0 999.3h2.0v11.5h-2.0zM655.0 999.5h2.0v11.4h-2.0zM657.0 1002.8h2.0v11.7h-2.0zM659.0 1002.0h2.0v10.2h-2.0zM661.0 1004.4h2.0v6.4h-2.0zM663.0 998.9h2.0v19.8h-2.0zM665.0 1004.0h2.0v14.7h-2.0zM667.0 1004.9h2.0v8.2h-2.0zM669.0 1007.4h2.0v8.7h-2.0zM671.0 1004.2h2.0v15.7h-2.0zM673.0 1000.3h2.0v15.3h-2.0zM675.0 1008.1h2.0v7.5h-2.0zM677.0 1001.9h2.0v14.0h-2.0zM679.0 1001.9h2.0v12.5h-2.0zM681.0 1006.1h2.0v13.5h-2.0zM683.0 1005.9h2.0v14.4h-2.0zM685.0 1006.2h2.0v14.2h-2.0zM687.0 1003.5h2.0v14.9h-2.0zM689.0 1005.0h2.0v14.8h-2.0zM691.0 1003.6h2.0v11.6h-2.0zM693.0 1007.4h2.0v7.2h-2.0zM695.0 1008.2h2.0v5.9h-2.0zM697.0 1009.7h2.0v5.2h-2.0zM699.0 1005.7h2.0v11.8h-2.0zM701.0 1004.9h2.0v13.1h-2.0zM703.0 1010.3h2.0v6.0h-2.0zM705.0 1008.3h2.0v8.9h-2.0zM707.0 1009.8h2.0v11.9h-2.0zM709.0 1004.6h2.0v13.5h-2.0zM711.0 1008.0h2.0v8.2h-2.0zM713.0 1009.0h2.0v9.9h-2.0zM715.0 1005.4h2.0v13.5h-2.0zM717.0 1008.9h2.0v7.4h-2.0zM719.0 1009.8h2.0v7.7h-2.0zM721.0 1007.1h2.0v11.3h-2.0zM723.0 1005.3h2.0v11.0h-2.0zM725.0 1005.0h2.0v10.9h-2.0zM727.0 1004.4h2.0v15.3h-2.0zM729.0 1007.4h2.0v12.3h-2.0zM731.0 1007.4h2.0v14.8h-2.0zM733.0 1010.2h2.0v12.0h-2.0zM735.0 1010.9h2.0v8.0h-2.0zM737.0 1006.4h2.0v8.5h-2.0zM739.0 1011.6h2.0v10.1h-2.0zM741.0 1010.5h2.0v6.5h-2.0zM743.0 1007.8h2.0v14.3h-2.0zM745.0 1011.5h2.0v8.6h-2.0zM747.0 1010.4h2.0v9.6h-2.0zM749.0 1004.0h2.0v16.0h-2.0zM751.0 1005.6h2.0v15.6h-2.0zM753.0 1007.1h2.0v12.7h-2.0zM755.0 1008.5h2.0v18.9h-2.0zM757.0 1009.4h2.0v10.8h-2.0zM759.0 1008.8h2.0v10.1h-2.0zM761.0 1008.9h2.0v9.0h-2.0zM763.0 996.9h2.0v17.8h-2.0zM765.0 992.3h2.0v13.3h-2.0zM767.0 991.1h2.0v14.5h-2.0zM769.0 980.1h2.0v17.2h-2.0zM771.0 924.8h2.0v57.9h-2.0zM773.0 922.8h2.0v17.3h-2.0zM775.0 913.0h2.0v20.3h-2.0zM777.0 918.5h2.0v26.8h-2.0zM779.0 931.3h2.0v47.5h-2.0zM781.0 973.3h2.0v29.8h-2.0zM783.0 1001.1h2.0v18.1h-2.0zM785.0 1003.8h2.0v12.8h-2.0zM787.0 999.4h2.0v12.6h-2.0zM789.0 1009.6h2.0v10.5h-2.0zM791.0 1009.6h2.0v13.5h-2.0zM793.0 1017.3h2.0v5.7h-2.0zM795.0 1017.3h2.0v10.9h-2.0zM797.0 1019.3h2.0v7.4h-2.0zM799.0 1016.1h2.0v10.6h-2.0zM801.0 1018.2h2.0v7.0h-2.0zM803.0 1018.5h2.0v10.1h-2.0zM805.0 1019.4h2.0v8.0h-2.0zM807.0 1019.1h2.0v11.0h-2.0zM809.0 1019.1h2.0v10.3h-2.0zM811.0 1021.5h2.0v10.8h-2.0zM813.0 1023.7h2.0v7.3h-2.0zM815.0 1020.5h2.0v9.4h-2.0zM817.0 1020.4h2.0v14.5h-2.0zM819.0 1017.2h2.0v17.6h-2.0zM821.0 1027.1h2.0v4.4h-2.0zM823.0 1026.0h2.0v5.6h-2.0zM825.0 1021.5h2.0v11.6h-2.0zM827.0 1021.5h2.0v11.3h-2.0zM829.0 1023.1h2.0v8.3h-2.0zM831.0 1022.7h2.0v8.7h-2.0zM833.0 1022.7h2.0v12.2h-2.0zM835.0 1020.6h2.0v14.4h-2.0zM837.0 1020.6h2.0v12.9h-2.0zM839.0 1027.1h2.0v8.1h-2.0zM841.0 1022.5h2.0v11.3h-2.0zM843.0 1022.5h2.0v13.8h-2.0zM845.0 1024.3h2.0v10.1h-2.0zM847.0 1024.2h2.0v11.1h-2.0zM849.0 1024.5h2.0v10.8h-2.0zM851.0 1029.4h2.0v8.7h-2.0zM853.0 1029.4h2.0v8.8h-2.0zM855.0 1028.8h2.0v10.6h-2.0zM857.0 1027.7h2.0v13.5h-2.0zM859.0 1029.1h2.0v7.1h-2.0zM861.0 1029.2h2.0v14.1h-2.0zM863.0 1027.7h2.0v15.6h-2.0zM865.0 1032.0h2.0v5.8h-2.0zM867.0 1029.5h2.0v7.7h-2.0zM869.0 1031.9h2.0v6.6h-2.0zM871.0 1030.9h2.0v7.6h-2.0zM873.0 1022.9h2.0v21.7h-2.0zM875.0 1032.3h2.0v11.2h-2.0zM877.0 1032.6h2.0v6.1h-2.0zM879.0 1026.6h2.0v13.1h-2.0zM881.0 1031.2h2.0v9.2h-2.0zM883.0 1027.7h2.0v15.8h-2.0zM885.0 1034.2h2.0v9.3h-2.0zM887.0 1029.5h2.0v8.5h-2.0zM889.0 1034.9h2.0v8.2h-2.0zM891.0 1032.0h2.0v12.0h-2.0zM893.0 1030.7h2.0v7.5h-2.0zM895.0 1030.7h2.0v13.0h-2.0zM897.0 1030.1h2.0v12.8h-2.0zM899.0 1031.8h2.0v10.7h-2.0zM901.0 1035.0h2.0v7.1h-2.0zM903.0 1033.0h2.0v9.1h-2.0zM905.0 1033.2h2.0v9.4h-2.0zM907.0 1033.5h2.0v6.5h-2.0zM909.0 1031.3h2.0v12.0h-2.0zM911.0 1031.3h2.0v11.6h-2.0zM913.0 1033.9h2.0v8.9h-2.0zM915.0 1032.9h2.0v6.4h-2.0zM917.0 1032.9h2.0v11.7h-2.0zM919.0 1035.5h2.0v9.2h-2.0zM921.0 1034.8h2.0v12.0h-2.0zM923.0 1036.9h2.0v10.2h-2.0zM925.0 1034.8h2.0v7.8h-2.0zM927.0 1034.8h2.0v9.6h-2.0zM929.0 1035.2h2.0v7.9h-2.0zM931.0 1030.6h2.0v10.5h-2.0zM933.0 1032.9h2.0v11.9h-2.0zM935.0 1038.3h2.0v8.3h-2.0zM937.0 1034.9h2.0v7.8h-2.0zM939.0 1038.8h2.0v9.2h-2.0zM941.0 1038.8h2.0v8.9h-2.0zM943.0 1039.1h2.0v6.0h-2.0zM945.0 1037.7h2.0v10.0h-2.0zM947.0 1036.2h2.0v7.7h-2.0zM949.0 1037.8h2.0v7.7h-2.0zM951.0 1036.6h2.0v9.4h-2.0zM953.0 1039.5h2.0v6.2h-2.0zM955.0 1035.4h2.0v9.5h-2.0zM957.0 1036.8h2.0v8.6h-2.0zM959.0 1037.1h2.0v4.9h-2.0zM961.0 1036.4h2.0v10.6h-2.0zM963.0 1039.9h2.0v5.5h-2.0zM965.0 1033.8h2.0v11.5h-2.0zM967.0 1036.3h2.0v12.5h-2.0zM969.0 1039.1h2.0v6.8h-2.0zM971.0 1036.1h2.0v9.0h-2.0zM973.0 1038.1h2.0v8.8h-2.0zM975.0 1037.4h2.0v10.8h-2.0zM977.0 1037.4h2.0v11.1h-2.0zM979.0 1040.6h2.0v9.7h-2.0zM981.0 1040.6h2.0v11.0h-2.0zM983.0 1038.7h2.0v5.8h-2.0zM985.0 1040.1h2.0v9.2h-2.0zM987.0 1037.1h2.0v9.7h-2.0zM989.0 1040.5h2.0v8.2h-2.0zM991.0 1039.4h2.0v13.8h-2.0zM993.0 1041.2h2.0v9.5h-2.0zM995.0 1040.8h2.0v8.2h-2.0zM997.0 1042.9h2.0v7.7h-2.0zM999.0 1038.4h2.0v12.3h-2.0zM1001.0 1038.4h2.0v7.6h-2.0zM1003.0 1041.4h2.0v7.0h-2.0zM1005.0 1038.2h2.0v10.2h-2.0zM1007.0 1040.6h2.0v8.5h-2.0zM1009.0 1037.0h2.0v12.2h-2.0zM1011.0 1042.8h2.0v5.2h-2.0zM1013.0 1042.2h2.0v8.5h-2.0zM1015.0 1042.6h2.0v8.2h-2.0zM1017.0 1040.7h2.0v8.0h-2.0zM1019.0 1042.2h2.0v10.7h-2.0zM1021.0 1038.5h2.0v10.8h-2.0zM1023.0 1041.5h2.0v8.7h-2.0zM1025.0 1037.0h2.0v10.1h-2.0zM1027.0 1043.0h2.0v6.6h-2.0zM1029.0 1045.1h2.0v5.6h-2.0zM1031.0 1041.2h2.0v9.5h-2.0zM1033.0 1042.8h2.0v9.1h-2.0zM1035.0 1042.8h2.0v6.6h-2.0zM1037.0 1038.4h2.0v12.2h-2.0zM1039.0 1041.7h2.0v9.1h-2.0zM1041.0 1043.7h2.0v7.0h-2.0zM1043.0 1041.6h2.0v9.5h-2.0zM1045.0 1044.5h2.0v6.6h-2.0zM1047.0 1042.0h2.0v5.7h-2.0zM1049.0 1042.0h2.0v8.5h-2.0zM1051.0 1041.0h2.0v11.4h-2.0zM1053.0 1041.1h2.0v7.7h-2.0zM1055.0 1041.5h2.0v11.7h-2.0zM1057.0 1041.2h2.0v11.2h-2.0zM1059.0 1040.8h2.0v8.4h-2.0zM1061.0 1043.7h2.0v9.0h-2.0zM1063.0 1043.0h2.0v15.6h-2.0zM1065.0 1041.6h2.0v11.6h-2.0zM1067.0 1042.8h2.0v12.4h-2.0zM1069.0 1040.9h2.0v13.6h-2.0zM1071.0 1042.8h2.0v9.2h-2.0zM1073.0 1039.7h2.0v14.2h-2.0zM1075.0 1041.1h2.0v11.0h-2.0zM1077.0 1041.1h2.0v9.8h-2.0zM1079.0 1043.2h2.0v9.9h-2.0zM1081.0 1042.7h2.0v12.8h-2.0zM1083.0 1043.3h2.0v9.9h-2.0zM1085.0 1042.2h2.0v9.7h-2.0zM1087.0 1040.7h2.0v11.2h-2.0zM1089.0 1043.4h2.0v12.9h-2.0zM1091.0 1039.6h2.0v16.6h-2.0zM1093.0 1041.1h2.0v12.7h-2.0zM1095.0 1042.4h2.0v13.2h-2.0zM1097.0 1041.4h2.0v14.3h-2.0zM1099.0 1045.6h2.0v9.9h-2.0zM1101.0 1044.9h2.0v10.5h-2.0zM1103.0 1044.9h2.0v10.0h-2.0zM1105.0 1045.8h2.0v7.6h-2.0zM1107.0 1046.4h2.0v5.3h-2.0zM1109.0 1045.5h2.0v6.3h-2.0zM1111.0 1045.2h2.0v7.0h-2.0zM1113.0 1042.0h2.0v10.1h-2.0zM1115.0 1044.5h2.0v9.7h-2.0zM1117.0 1043.0h2.0v9.7h-2.0zM1119.0 1046.6h2.0v7.1h-2.0zM1121.0 1046.2h2.0v7.5h-2.0zM1123.0 1048.7h2.0v7.7h-2.0zM1125.0 1042.5h2.0v11.8h-2.0zM1127.0 1046.6h2.0v7.5h-2.0zM1129.0 1046.8h2.0v8.4h-2.0zM1131.0 1044.4h2.0v6.6h-2.0zM1133.0 1044.4h2.0v11.2h-2.0zM1135.0 1047.2h2.0v9.6h-2.0zM1137.0 1046.8h2.0v10.0h-2.0zM1139.0 1046.3h2.0v9.0h-2.0zM1141.0 1046.9h2.0v11.9h-2.0zM1143.0 1047.4h2.0v11.3h-2.0zM1145.0 1047.2h2.0v8.2h-2.0zM1147.0 1043.0h2.0v13.5h-2.0zM1149.0 1048.9h2.0v7.0h-2.0zM1151.0 1042.6h2.0v14.0h-2.0zM1153.0 1044.5h2.0v7.2h-2.0zM1155.0 1044.5h2.0v15.1h-2.0zM1157.0 1045.5h2.0v9.3h-2.0zM1159.0 1047.5h2.0v7.8h-2.0zM1161.0 1048.2h2.0v8.9h-2.0zM1163.0 1045.9h2.0v8.3h-2.0zM1165.0 1048.6h2.0v4.9h-2.0zM1167.0 1045.4h2.0v11.5h-2.0zM1169.0 1046.4h2.0v7.8h-2.0zM1171.0 1046.4h2.0v8.5h-2.0zM1173.0 1045.6h2.0v9.3h-2.0zM1175.0 1047.2h2.0v7.3h-2.0zM1177.0 1047.2h2.0v8.2h-2.0zM1179.0 1046.9h2.0v7.4h-2.0zM1181.0 1046.9h2.0v11.9h-2.0zM1183.0 1048.4h2.0v6.2h-2.0zM1185.0 1046.5h2.0v7.6h-2.0zM1187.0 1048.6h2.0v6.7h-2.0zM1189.0 1046.4h2.0v8.7h-2.0zM1191.0 1048.6h2.0v3.9h-2.0zM1193.0 1044.4h2.0v11.2h-2.0zM1195.0 1049.1h2.0v6.4h-2.0zM1197.0 1045.7h2.0v10.6h-2.0zM1199.0 1045.9h2.0v7.8h-2.0zM1201.0 1047.9h2.0v6.5h-2.0zM1203.0 1049.4h2.0v3.6h-2.0zM1205.0 1047.0h2.0v8.4h-2.0zM1207.0 1046.0h2.0v9.3h-2.0zM1209.0 1046.9h2.0v7.6h-2.0zM1211.0 1049.3h2.0v6.0h-2.0zM1213.0 1045.3h2.0v13.8h-2.0zM1215.0 1048.9h2.0v8.8h-2.0zM1217.0 1051.0h2.0v6.2h-2.0zM1219.0 1046.9h2.0v9.2h-2.0zM1221.0 1047.4h2.0v7.0h-2.0zM1223.0 1046.6h2.0v9.5h-2.0zM1225.0 1048.0h2.0v7.2h-2.0zM1227.0 1048.0h2.0v8.0h-2.0zM1229.0 1047.8h2.0v7.3h-2.0zM1231.0 1048.1h2.0v5.6h-2.0zM1233.0 1049.8h2.0v5.8h-2.0zM1235.0 1048.3h2.0v9.2h-2.0zM1237.0 1048.3h2.0v9.2h-2.0zM1239.0 1050.4h2.0v6.5h-2.0zM1241.0 1048.6h2.0v11.1h-2.0zM1243.0 1045.3h2.0v16.8h-2.0zM1245.0 1046.8h2.0v12.7h-2.0zM1247.0 1053.0h2.0v7.2h-2.0zM1249.0 1041.9h2.0v16.6h-2.0zM1251.0 1046.7h2.0v9.6h-2.0zM1253.0 1046.7h2.0v9.8h-2.0zM1255.0 1047.6h2.0v8.4h-2.0zM1257.0 1050.0h2.0v10.7h-2.0zM1259.0 1050.9h2.0v9.8h-2.0zM1261.0 1046.3h2.0v9.3h-2.0zM1263.0 1051.2h2.0v4.1h-2.0zM1265.0 1050.5h2.0v7.4h-2.0zM1267.0 1049.7h2.0v9.8h-2.0zM1269.0 1051.0h2.0v8.5h-2.0zM1271.0 1049.9h2.0v4.3h-2.0zM1273.0 1047.8h2.0v8.9h-2.0zM1275.0 1047.2h2.0v10.2h-2.0zM1277.0 1047.2h2.0v13.7h-2.0zM1279.0 1051.3h2.0v9.6h-2.0zM1281.0 1050.3h2.0v8.1h-2.0zM1283.0 1046.3h2.0v12.1h-2.0zM1285.0 1049.5h2.0v10.2h-2.0zM1287.0 1049.9h2.0v4.1h-2.0zM1289.0 1048.4h2.0v11.5h-2.0zM1291.0 1051.9h2.0v6.1h-2.0zM1293.0 1048.7h2.0v8.1h-2.0zM1295.0 1048.2h2.0v10.7h-2.0zM1297.0 1049.9h2.0v7.3h-2.0zM1299.0 1049.1h2.0v8.2h-2.0zM1301.0 1052.6h2.0v5.3h-2.0zM1303.0 1048.1h2.0v9.4h-2.0zM1305.0 1048.1h2.0v10.3h-2.0zM1307.0 1048.0h2.0v9.4h-2.0zM1309.0 1048.2h2.0v12.1h-2.0zM1311.0 1048.2h2.0v12.2h-2.0zM1313.0 1049.6h2.0v10.8h-2.0zM1315.0 1054.0h2.0v6.0h-2.0zM1317.0 1051.4h2.0v5.6h-2.0zM1319.0 1052.3h2.0v9.7h-2.0zM1321.0 1050.7h2.0v7.5h-2.0zM1323.0 1050.7h2.0v6.7h-2.0zM1325.0 1050.1h2.0v12.1h-2.0zM1327.0 1050.1h2.0v12.1h-2.0zM1329.0 1047.4h2.0v11.7h-2.0zM1331.0 1047.4h2.0v12.2h-2.0zM1333.0 1052.4h2.0v8.3h-2.0zM1335.0 1050.2h2.0v10.7h-2.0zM1337.0 1049.3h2.0v8.0h-2.0zM1339.0 1049.6h2.0v7.4h-2.0zM1341.0 1049.1h2.0v8.9h-2.0zM1343.0 1054.3h2.0v6.7h-2.0zM1345.0 1048.7h2.0v8.9h-2.0zM1347.0 1052.3h2.0v9.3h-2.0zM1349.0 1051.4h2.0v10.2h-2.0zM1351.0 1052.4h2.0v6.5h-2.0zM1353.0 1052.7h2.0v8.0h-2.0zM1355.0 1052.3h2.0v8.3h-2.0zM1357.0 1050.5h2.0v9.5h-2.0zM1359.0 1053.4h2.0v5.9h-2.0zM1361.0 1051.1h2.0v9.3h-2.0zM1363.0 1054.5h2.0v6.3h-2.0zM1365.0 1051.7h2.0v7.0h-2.0zM1367.0 1052.2h2.0v7.4h-2.0zM1369.0 1052.7h2.0v6.6h-2.0zM1371.0 1050.5h2.0v11.8h-2.0zM1373.0 1049.3h2.0v14.7h-2.0zM1375.0 1049.3h2.0v9.0h-2.0zM1377.0 1051.1h2.0v9.4h-2.0zM1379.0 1049.8h2.0v14.9h-2.0zM1381.0 1049.2h2.0v9.3h-2.0zM1383.0 1049.2h2.0v13.2h-2.0zM1385.0 1051.1h2.0v9.9h-2.0zM1387.0 1048.9h2.0v15.0h-2.0zM1389.0 1050.6h2.0v10.2h-2.0zM1391.0 1052.0h2.0v11.1h-2.0zM1393.0 1051.4h2.0v8.8h-2.0zM1395.0 1051.4h2.0v11.0h-2.0zM1397.0 1052.8h2.0v10.8h-2.0zM1399.0 1053.0h2.0v10.9h-2.0zM1401.0 1051.5h2.0v7.9h-2.0zM1403.0 1053.9h2.0v6.6h-2.0zM1405.0 1048.3h2.0v12.4h-2.0zM1407.0 1047.8h2.0v9.8h-2.0zM1409.0 1052.7h2.0v9.3h-2.0zM1411.0 1056.1h2.0v5.9h-2.0zM1413.0 1053.6h2.0v6.5h-2.0zM1415.0 1052.8h2.0v7.0h-2.0zM1417.0 1056.0h2.0v7.3h-2.0zM1419.0 1054.2h2.0v7.7h-2.0zM1421.0 1055.2h2.0v6.4h-2.0zM1423.0 1051.3h2.0v10.0h-2.0zM1425.0 1055.3h2.0v8.6h-2.0zM1427.0 1057.9h2.0v7.2h-2.0zM1429.0 1054.8h2.0v8.7h-2.0z" fill="#ee383b" shape-rendering="crispEdges"/>
<g stroke-width="2" fill="none">
<path d="M296.1 72 L296.1 53.3" stroke="#707070"/>
<path d="M302 72 L302 51" stroke="#707070"/>
<path d="M298.8 318 L298.8 300.6" stroke="#f05858"/>
<path d="M305 322 L305 306" stroke="#f05858"/>
</g>
<g stroke="#000" stroke-width="5.5" stroke-linecap="round">
<line x1="252.6" y1="1087" x2="252.6" y2="1069.3"/>
<line x1="450.4" y1="1087" x2="450.4" y2="1069.3"/>
<line x1="645.2" y1="1087" x2="645.2" y2="1069.3"/>
<line x1="842.4" y1="1087" x2="842.4" y2="1069.3"/>
<line x1="1040.2" y1="1087" x2="1040.2" y2="1069.3"/>
<line x1="1234.9" y1="1087" x2="1234.9" y2="1069.3"/>
<line x1="153.6" y1="1087" x2="153.6" y2="1079.2"/>
<line x1="351.4" y1="1087" x2="351.4" y2="1079.2"/>
<line x1="546.2" y1="1087" x2="546.2" y2="1079.2"/>
<line x1="743.5" y1="1087" x2="743.5" y2="1079.2"/>
<line x1="941.1" y1="1087" x2="941.1" y2="1079.2"/>
<line x1="1136.2" y1="1087" x2="1136.2" y2="1079.2"/>
<line x1="1333.5" y1="1087" x2="1333.5" y2="1079.2"/>
</g>
<rect x="55.2" y="32.7" width="1376.8" height="1054.4" fill="none" stroke="#000" stroke-width="6"/>
<line x1="707" y1="84.9" x2="821" y2="84.9" stroke="#6e6e6e" stroke-width="3.4"/>
<line x1="707" y1="143" x2="821" y2="143" stroke="#f25252" stroke-width="3.4"/>
<text x="847" y="93.7" font-size="54.8">Raw fabic</text>
<text x="845.7" y="164.2" font-size="54.8">Fabic/PPy/ZnO/HDTMS</text>
<g font-size="59.5" font-weight="bold" text-anchor="middle">
<text transform="translate(26.2 1153.6) scale(1.02 1)" x="0" y="0" text-anchor="start">1</text><text transform="translate(53.3 1153.6) scale(1.1 1)" x="0" y="0" text-anchor="start">0</text>
<text transform="translate(252.6 1153.6) scale(1.05 1)" x="0" y="0">20</text>
<text transform="translate(450.4 1153.6) scale(1.05 1)" x="0" y="0">30</text>
<text transform="translate(645.2 1153.6) scale(1.05 1)" x="0" y="0">40</text>
<text transform="translate(842.4 1153.6) scale(1.05 1)" x="0" y="0">50</text>
<text transform="translate(1040.2 1153.6) scale(1.05 1)" x="0" y="0">60</text>
<text transform="translate(1234.9 1153.6) scale(1.05 1)" x="0" y="0">70</text>
<text transform="translate(1432 1153.6) scale(1.05 1)" x="0" y="0">80</text>
</g>
<rect x="0" y="1095" width="36.6" height="80" fill="#fff"/>
<text x="742.4" y="1244.5" font-size="58.5" font-weight="bold" text-anchor="middle">2θ(degree)</text>
</svg>
</body></html>
